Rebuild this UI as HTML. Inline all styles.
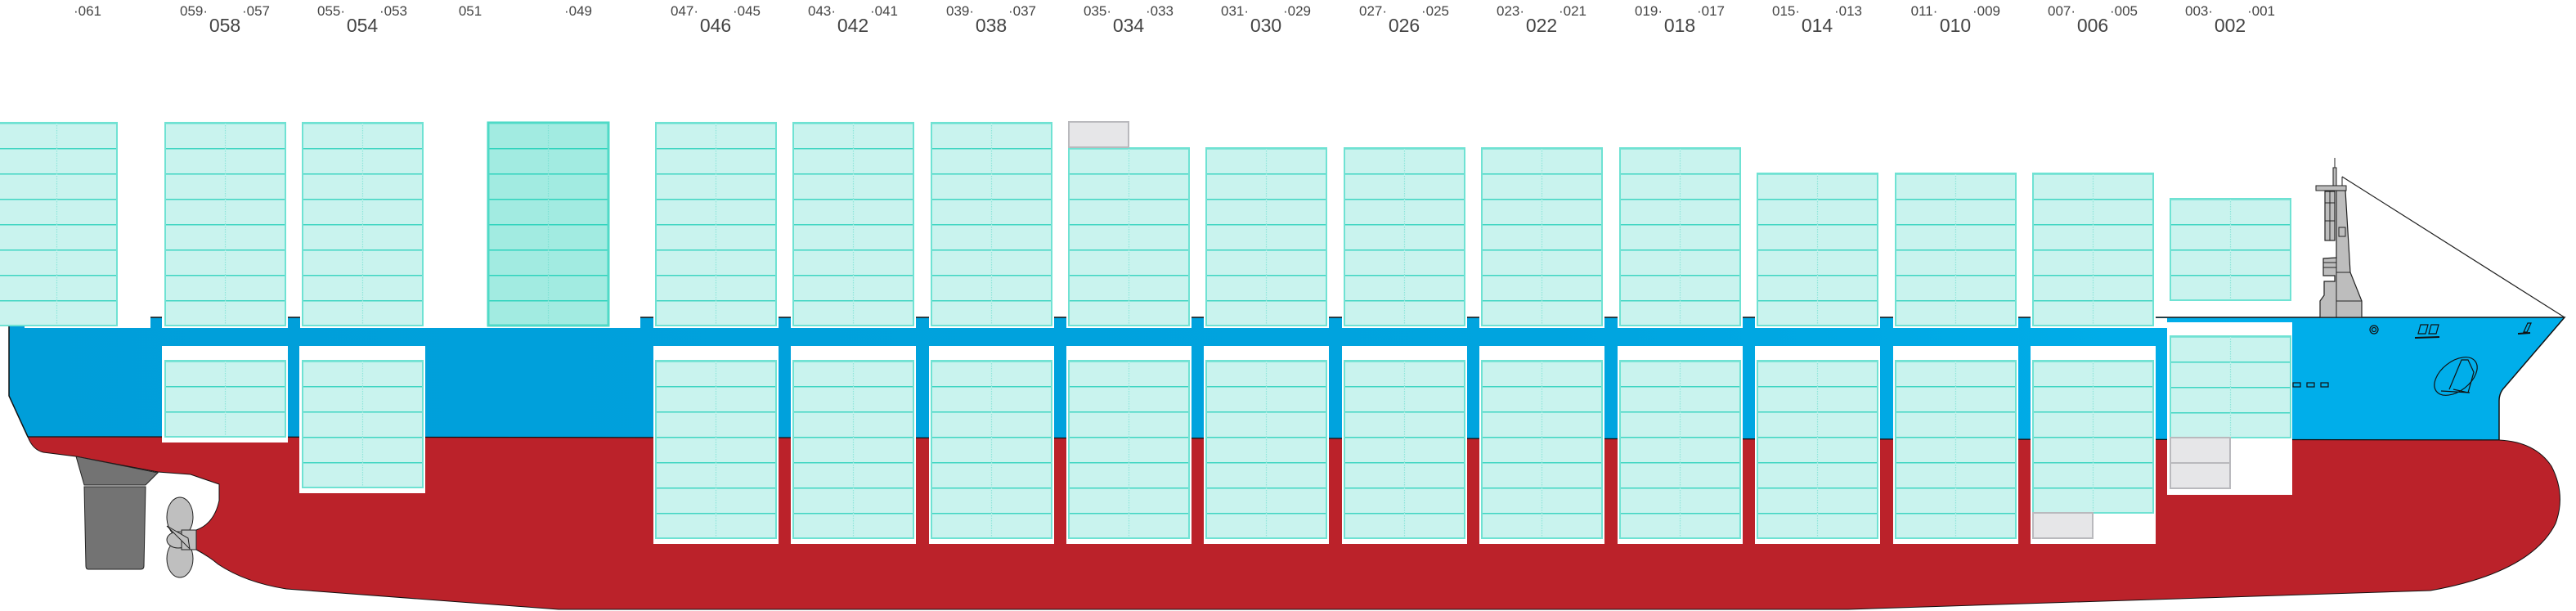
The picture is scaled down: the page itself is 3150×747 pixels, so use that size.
<!DOCTYPE html>
<html><head><meta charset="utf-8"><style>
html,body{margin:0;padding:0;background:#fff;}
svg{display:block;}
text{font-family:"Liberation Sans",sans-serif;fill:#444;}
</style></head><body>
<svg width="3150" height="747" viewBox="0 0 3150 747" xmlns="http://www.w3.org/2000/svg">
<defs>
<pattern id="c" patternUnits="userSpaceOnUse" width="147" height="31">
<rect width="147" height="31" fill="#c9f3ee"/>
<line x1="0" y1="0" x2="147" y2="0" stroke="#3fd5c2" stroke-width="3"/>
<line x1="73.5" y1="0" x2="73.5" y2="31" stroke="#8ee6da" stroke-width="1.2" stroke-dasharray="1.5 1.5"/>
</pattern>
<pattern id="d" patternUnits="userSpaceOnUse" width="147" height="31">
<rect width="147" height="31" fill="#a2ebe1"/>
<line x1="0" y1="0" x2="147" y2="0" stroke="#2fd3bd" stroke-width="3"/>
<line x1="73.5" y1="0" x2="73.5" y2="31" stroke="#7de0d2" stroke-width="1.2" stroke-dasharray="1.5 1.5"/>
</pattern>
<linearGradient id="bl" x1="0" y1="0" x2="3150" y2="0" gradientUnits="userSpaceOnUse">
<stop offset="0" stop-color="#009ed9"/><stop offset="0.6" stop-color="#00a4df"/><stop offset="0.88" stop-color="#00aeea"/><stop offset="1" stop-color="#00aeea"/>
</linearGradient>
</defs>

<!-- blue hull -->
<path d="M11,388 L3136,388 L3063,473 Q3056,480 3056,490 L3056,538 L34,534 L11,484 Z" fill="url(#bl)" stroke="#111" stroke-width="1.5"/>
<!-- red hull -->
<path d="M34,534 L3056,538 Q3100,540 3120,570 Q3138,605 3125,640 Q3095,700 2972,722 L2260,745 L683,745 L350,720 Q300,712 267,690 Q255,680 240,672 L240,648 Q262,640 268,612 L268,592 L233,580 L193,577 L93,558 L53,553 Q40,550 34,534 Z" fill="#bb222a" stroke="#111" stroke-width="1"/>

<!-- deck strip white areas -->
<g fill="#fff">
<rect x="30" y="387" width="154" height="14"/>
<rect x="198" y="387" width="154" height="14"/>
<rect x="367" y="387" width="416" height="14"/>
<rect x="799" y="387" width="153" height="14"/>
<rect x="967" y="387" width="153" height="14"/>
<rect x="1136" y="387" width="153" height="14"/>
<rect x="1304" y="387" width="153" height="14"/>
<rect x="1472" y="387" width="153" height="14"/>
<rect x="1641" y="387" width="153" height="14"/>
<rect x="1809" y="387" width="153" height="14"/>
<rect x="1978" y="387" width="153" height="14"/>
<rect x="2146" y="387" width="153" height="14"/>
<rect x="2315" y="387" width="153" height="14"/>
<rect x="2483" y="387" width="153" height="14"/>
<rect x="2636" y="389" width="14" height="12"/>
<!-- hold cutouts -->
<rect x="198" y="423" width="154" height="118"/>
<rect x="366" y="423" width="154" height="180"/>
<rect x="799" y="423" width="153" height="242"/>
<rect x="967" y="423" width="153" height="242"/>
<rect x="1136" y="423" width="153" height="242"/>
<rect x="1304" y="423" width="153" height="242"/>
<rect x="1472" y="423" width="153" height="242"/>
<rect x="1641" y="423" width="153" height="242"/>
<rect x="1809" y="423" width="153" height="242"/>
<rect x="1978" y="423" width="153" height="242"/>
<rect x="2146" y="423" width="153" height="242"/>
<rect x="2315" y="423" width="153" height="242"/>
<rect x="2483" y="423" width="153" height="242"/>
<rect x="2650" y="394" width="153" height="211"/>
</g>

<!-- rudder -->
<path d="M93,558 L193,578 L178,593 L103,593 Z" fill="#737373" stroke="#222" stroke-width="1"/>
<path d="M103,595 L178,595 L176,692 Q176,696 172,696 L108,696 Q105,696 105,692 Z" fill="#737373" stroke="#222" stroke-width="1"/>
<!-- propeller -->
<ellipse cx="220" cy="632" rx="16" ry="24" fill="#bfbfbf" stroke="#222" stroke-width="1"/>
<ellipse cx="220" cy="683" rx="16" ry="23" fill="#bfbfbf" stroke="#222" stroke-width="1"/>
<ellipse cx="218" cy="660" rx="14" ry="10" fill="#bfbfbf" stroke="#222" stroke-width="1"/>
<rect x="222" y="648" width="18" height="24" fill="#bfbfbf" stroke="#222" stroke-width="1"/>
<path d="M204,643 L232,671 L230,658 Z" fill="#bfbfbf" stroke="#222" stroke-width="1"/>

<!-- deck containers -->
<g stroke="#6fe2d3" stroke-width="2">
<g transform="translate(-4,150)"><rect width="147" height="248" fill="url(#c)"/></g>
<g transform="translate(202,150)"><rect width="147" height="248" fill="url(#c)"/></g>
<g transform="translate(370,150)"><rect width="147" height="248" fill="url(#c)"/></g>
<g transform="translate(597,150)"><rect width="147" height="248" fill="url(#d)" stroke="#4fdac7" stroke-width="3"/></g>
<g transform="translate(802,150)"><rect width="147" height="248" fill="url(#c)"/></g>
<g transform="translate(970,150)"><rect width="147" height="248" fill="url(#c)"/></g>
<g transform="translate(1139,150)"><rect width="147" height="248" fill="url(#c)"/></g>
<g transform="translate(1307,181)"><rect width="147" height="217" fill="url(#c)"/></g>
<g transform="translate(1475,181)"><rect width="147" height="217" fill="url(#c)"/></g>
<g transform="translate(1644,181)"><rect width="147" height="217" fill="url(#c)"/></g>
<g transform="translate(1812,181)"><rect width="147" height="217" fill="url(#c)"/></g>
<g transform="translate(1981,181)"><rect width="147" height="217" fill="url(#c)"/></g>
<g transform="translate(2149,212)"><rect width="147" height="186" fill="url(#c)"/></g>
<g transform="translate(2318,212)"><rect width="147" height="186" fill="url(#c)"/></g>
<g transform="translate(2486,212)"><rect width="147" height="186" fill="url(#c)"/></g>
<g transform="translate(2654,243)"><rect width="147" height="124" fill="url(#c)"/></g>
<!-- hold containers -->
<g transform="translate(202,441)"><rect width="147" height="93" fill="url(#c)"/></g>
<g transform="translate(370,441)"><rect width="147" height="155" fill="url(#c)"/></g>
<g transform="translate(802,441)"><rect width="147" height="217" fill="url(#c)"/></g>
<g transform="translate(970,441)"><rect width="147" height="217" fill="url(#c)"/></g>
<g transform="translate(1139,441)"><rect width="147" height="217" fill="url(#c)"/></g>
<g transform="translate(1307,441)"><rect width="147" height="217" fill="url(#c)"/></g>
<g transform="translate(1475,441)"><rect width="147" height="217" fill="url(#c)"/></g>
<g transform="translate(1644,441)"><rect width="147" height="217" fill="url(#c)"/></g>
<g transform="translate(1812,441)"><rect width="147" height="217" fill="url(#c)"/></g>
<g transform="translate(1981,441)"><rect width="147" height="217" fill="url(#c)"/></g>
<g transform="translate(2149,441)"><rect width="147" height="217" fill="url(#c)"/></g>
<g transform="translate(2318,441)"><rect width="147" height="217" fill="url(#c)"/></g>
<g transform="translate(2486,441)"><rect width="147" height="186" fill="url(#c)"/></g>
<g transform="translate(2654,411)"><rect width="147" height="124" fill="url(#c)"/></g>
</g>
<!-- grey boxes -->
<g fill="#e6e6e8" stroke="#b9b9bd" stroke-width="2">
<rect x="1307" y="149" width="73" height="31"/>
<rect x="2486" y="627" width="73" height="31"/>
<rect x="2654" y="535" width="73" height="31"/>
<rect x="2654" y="566" width="73" height="31"/>
</g>

<!-- mast -->
<line x1="2855" y1="193" x2="2855" y2="206" stroke="#222" stroke-width="1"/>
<rect x="2853" y="205" width="4" height="22" fill="#bdbdbd" stroke="#222" stroke-width="1"/>
<path d="M2837,388 L2837,368 L2842,361 L2842,344 L2855,344 L2855,337 L2841,337 L2841,316 L2857,315 L2857,233 L2868,233 L2874,333 L2888,368 L2888,388 Z" fill="#bdbdbd" stroke="#222" stroke-width="1.2"/>
<line x1="2857" y1="333" x2="2874" y2="333" stroke="#222" stroke-width="1"/>
<line x1="2857" y1="368" x2="2888" y2="368" stroke="#222" stroke-width="1"/>
<line x1="2857" y1="315" x2="2857" y2="388" stroke="#222" stroke-width="1"/>
<rect x="2832" y="227" width="37" height="6" fill="#bdbdbd" stroke="#222" stroke-width="1"/>
<rect x="2843" y="234" width="12" height="60" fill="#bdbdbd" stroke="#222" stroke-width="1.2"/>
<line x1="2849" y1="234" x2="2849" y2="294" stroke="#222" stroke-width="1"/>
<line x1="2843" y1="248" x2="2855" y2="248" stroke="#222" stroke-width="1"/>
<line x1="2843" y1="270" x2="2855" y2="270" stroke="#222" stroke-width="1"/>
<rect x="2860" y="278" width="8" height="11" fill="none" stroke="#222" stroke-width="1"/>
<line x1="2841" y1="321" x2="2857" y2="321" stroke="#222" stroke-width="1"/>
<line x1="2841" y1="327" x2="2857" y2="327" stroke="#222" stroke-width="1"/>
<line x1="2864" y1="216" x2="3136" y2="388" stroke="#222" stroke-width="1.2"/>
<line x1="2864" y1="216" x2="2864" y2="227" stroke="#222" stroke-width="1"/>

<!-- bow details -->
<g fill="none" stroke="#111" stroke-width="1.2">
<rect x="2804" y="468" width="9" height="5"/>
<rect x="2821" y="468" width="9" height="5"/>
<rect x="2838" y="468" width="9" height="5"/>
<circle cx="2903" cy="403" r="5"/><circle cx="2903" cy="403" r="2.5"/>
<path d="M2957,408 L2960,397 L2969,397 L2966,408 Z"/>
<path d="M2970,408 L2973,397 L2982,397 L2979,408 Z"/>
<path d="M3086,406 L3091,395 L3095,395 L3090,406 Z"/>
<ellipse cx="3003" cy="460" rx="30" ry="18" transform="rotate(-38 3003 460)"/>
<path d="M2995,476 L3010,440 L3018,440 L3025,455 L3018,480 L3000,476"/>
<line x1="2985" y1="478" x2="3020" y2="480"/>
</g>
<line x1="2953" y1="413" x2="2983" y2="412" stroke="#111" stroke-width="2"/>
<line x1="3079" y1="408" x2="3094" y2="407" stroke="#111" stroke-width="2"/>

<!-- labels -->
<g font-size="17" text-anchor="middle">
<text x="107" y="19">·061</text>
<text x="237" y="19">059·</text><text x="313" y="19">·057</text>
<text x="405" y="19">055·</text><text x="481" y="19">·053</text>
<text x="575" y="19">051</text>
<text x="707" y="19">·049</text>
<text x="837" y="19">047·</text><text x="913" y="19">·045</text>
<text x="1005" y="19">043·</text><text x="1081" y="19">·041</text>
<text x="1174" y="19">039·</text><text x="1250" y="19">·037</text>
<text x="1342" y="19">035·</text><text x="1418" y="19">·033</text>
<text x="1510" y="19">031·</text><text x="1586" y="19">·029</text>
<text x="1679" y="19">027·</text><text x="1755" y="19">·025</text>
<text x="1847" y="19">023·</text><text x="1923" y="19">·021</text>
<text x="2016" y="19">019·</text><text x="2092" y="19">·017</text>
<text x="2184" y="19">015·</text><text x="2260" y="19">·013</text>
<text x="2353" y="19">011·</text><text x="2429" y="19">·009</text>
<text x="2521" y="19">007·</text><text x="2597" y="19">·005</text>
<text x="2689" y="19">003·</text><text x="2765" y="19">·001</text>
</g>
<g font-size="23" text-anchor="middle">
<text x="275" y="39">058</text>
<text x="443" y="39">054</text>
<text x="875" y="39">046</text>
<text x="1043" y="39">042</text>
<text x="1212" y="39">038</text>
<text x="1380" y="39">034</text>
<text x="1548" y="39">030</text>
<text x="1717" y="39">026</text>
<text x="1885" y="39">022</text>
<text x="2054" y="39">018</text>
<text x="2222" y="39">014</text>
<text x="2391" y="39">010</text>
<text x="2559" y="39">006</text>
<text x="2727" y="39">002</text>
</g>
</svg>
</body></html>
